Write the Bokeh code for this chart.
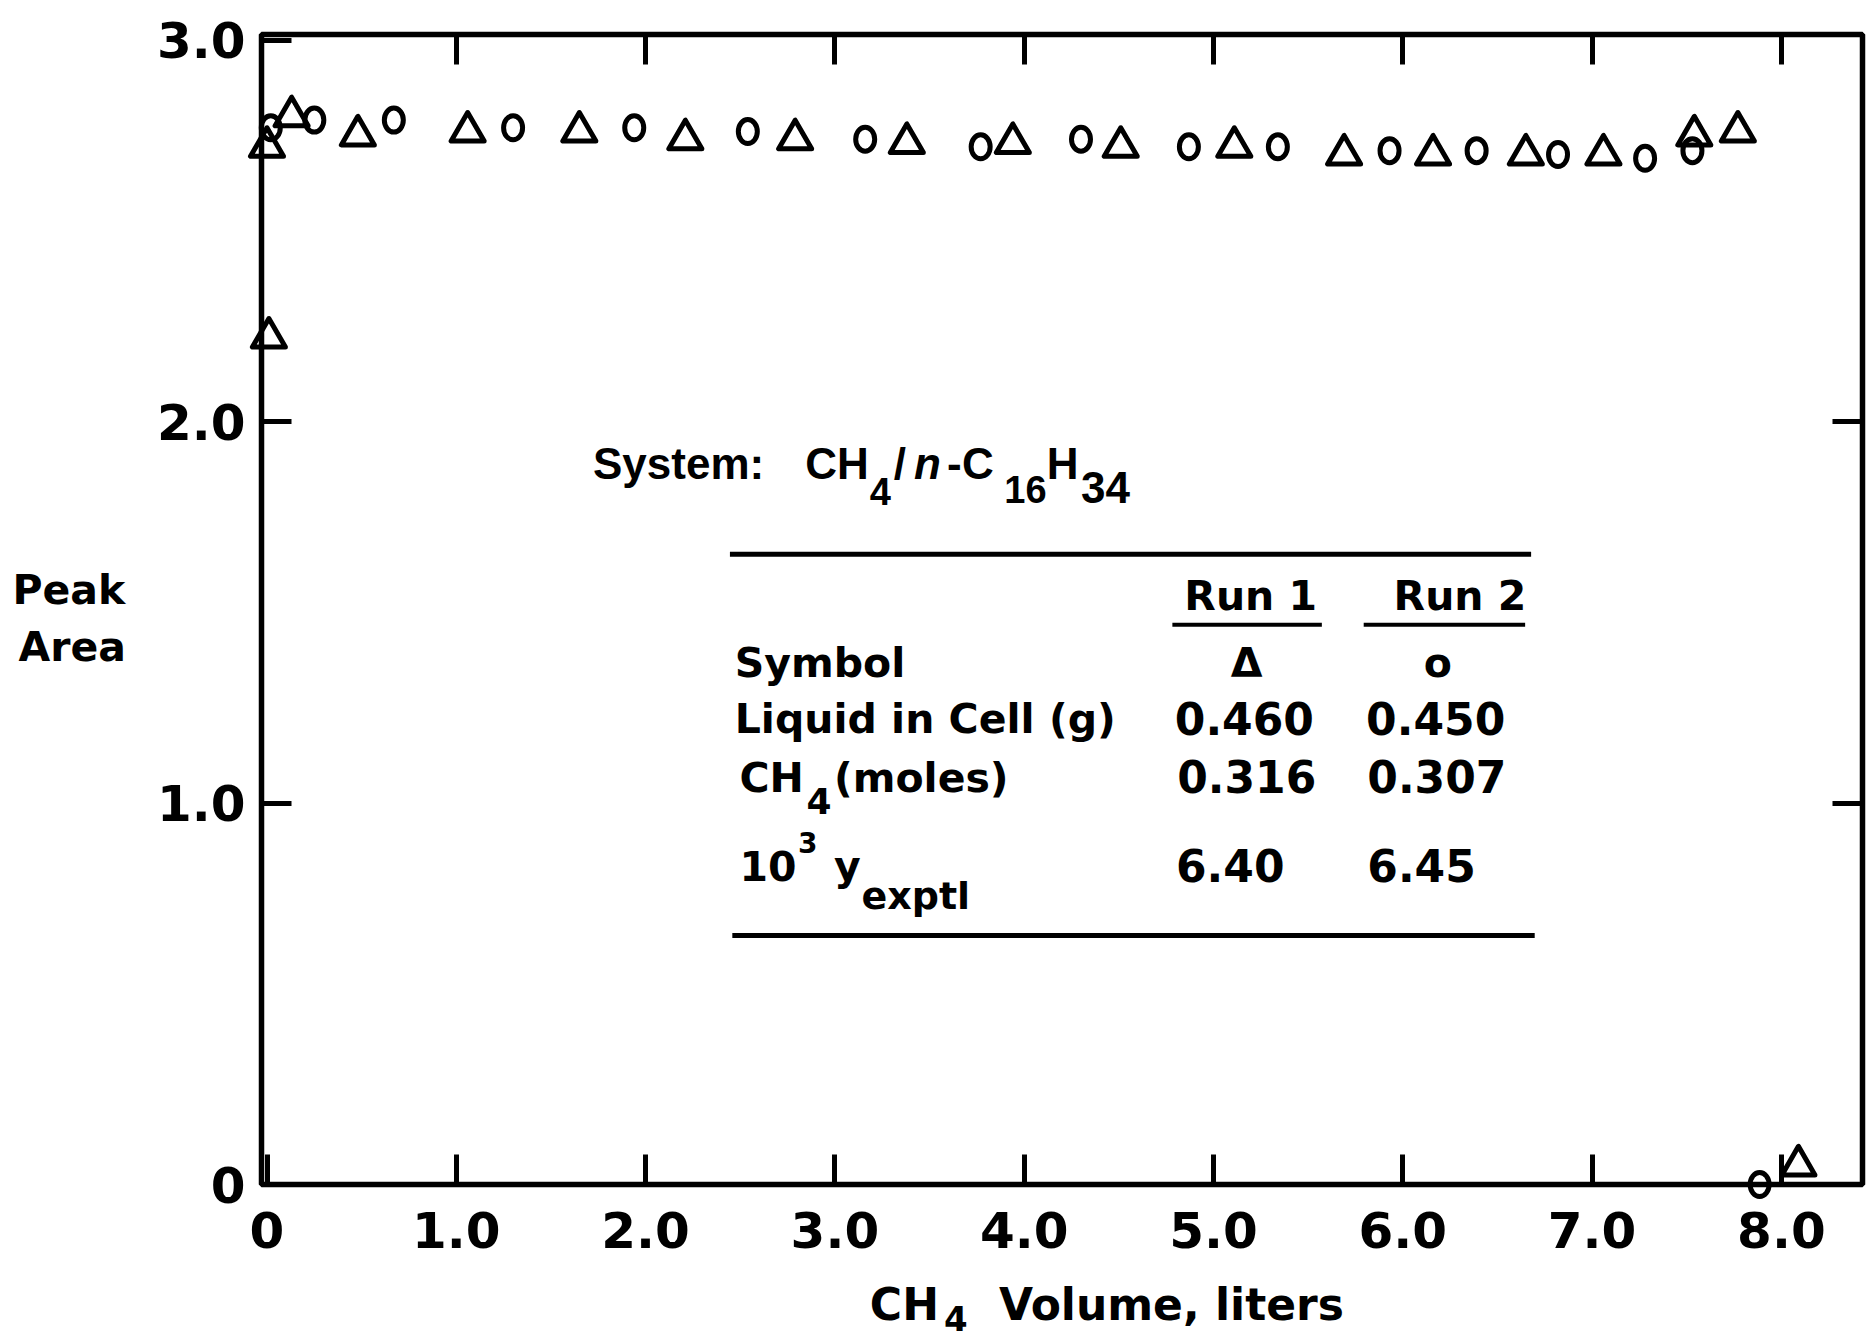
from bokeh.plotting import figure
from bokeh.models import (FixedTicker, LinearAxis, Label, Range1d, BoxAnnotation,
                          ColumnDataSource)
from bokeh.embed import file_html
from bokeh.resources import INLINE

# ---------------- data ----------------
run1_volume = [0.00, 0.01, 0.13, 0.48, 1.06, 1.65, 2.21, 2.79, 3.38, 3.94,
               4.51, 5.11, 5.69, 6.16, 6.65, 7.06, 7.54, 7.77, 8.09]
run1_area = [2.72, 2.22, 2.80, 2.75, 2.76, 2.76, 2.74, 2.74, 2.73, 2.73,
             2.72, 2.72, 2.70, 2.70, 2.70, 2.70, 2.75, 2.76, 0.05]

run2_volume = [0.02, 0.25, 0.67, 1.30, 1.94, 2.54, 3.16, 3.77, 4.30, 4.87,
               5.34, 5.93, 6.39, 6.82, 7.28, 7.53, 7.885]
run2_area = [2.77, 2.79, 2.79, 2.77, 2.77, 2.76, 2.74, 2.72, 2.74, 2.72,
             2.72, 2.71, 2.71, 2.70, 2.69, 2.71, 0.00]

x_ticks = [0, 1, 2, 3, 4, 5, 6, 7, 8]
x_tick_labels = ["0", "1.0", "2.0", "3.0", "4.0", "5.0", "6.0", "7.0", "8.0"]
y_ticks = [0, 1, 2, 3]
y_tick_labels = ["0", "1.0", "2.0", "3.0"]

run_names = ["Run 1", "Run 2"]
run_symbols = ["\u0394", "o"]
liquid_in_cell = ["0.460", "0.450"]
ch4_moles = ["0.316", "0.307"]
y_exptl = ["6.40", "6.45"]

# ---------------- layout ----------------
W, H = 1875, 1341
FL, FR, FT, FB = 261, 1862, 34, 1184      # visible frame box (px)
X0, SX = 266.5, 189.3                     # px of x=0, px per liter
Y0, SY = 1184.0, 381.5                    # px of y=0, px per unit area


def dx(px):
    return (px - X0) / SX


def dy(py):
    return (Y0 - py) / SY


SCALE = 1875 / 1568


def R(xs, ys, lift=0.0):
    """position read on the (shrunk) reference -> data coordinates, for annotations"""
    return dx(xs * SCALE), dy(ys * SCALE - lift)


# the plotting frame covers the whole canvas so nothing gets clipped;
# the visible frame box and the axes are placed on data coordinates.
p = figure(width=W, height=H,
           x_range=Range1d(dx(0), dx(W)), y_range=Range1d(dy(H), dy(0)),
           output_backend="svg", toolbar_location=None,
           x_axis_type=None, y_axis_type=None,
           min_border=0)
p.outline_line_color = None
p.xgrid.visible = False
p.ygrid.visible = False
p.background_fill_color = "white"
p.border_fill_color = "white"

TICK_FONT = "DejaVu Sans"
TABLE_FONT = "DejaVu Sans"
SYS_FONT = "Liberation Sans"


def make_axis(ticks, labels, fixed, show, standoff=0):
    return LinearAxis(ticker=FixedTicker(ticks=ticks), fixed_location=fixed,
                      axis_line_color=None, major_tick_in=30, major_tick_out=0,
                      major_tick_line_width=5, major_tick_line_color="black",
                      minor_tick_line_color=None,
                      major_label_overrides={t: (l if show else "") for t, l in zip(ticks, labels)},
                      major_label_text_font=TICK_FONT, major_label_text_font_style="bold",
                      major_label_text_font_size="50px" if show else "1px",
                      major_label_text_color="black",
                      major_label_standoff=standoff)


p.add_layout(make_axis(x_ticks, x_tick_labels, 0.0, True, standoff=27), "below")
p.add_layout(make_axis(y_ticks, y_tick_labels, dx(FL), True, standoff=16), "left")
p.add_layout(make_axis(x_ticks[1:], x_tick_labels[1:], dy(FT), False), "above")
p.add_layout(make_axis(y_ticks[1:3], y_tick_labels[1:3], dx(FR), False), "right")

# frame
p.add_layout(BoxAnnotation(left=dx(FL), right=dx(FR), top=dy(FT), bottom=dy(FB),
                           fill_alpha=0, line_color="black", line_alpha=1,
                           line_width=5.5))

# data marks
src1 = ColumnDataSource(dict(x=run1_volume, y=run1_area))
src2 = ColumnDataSource(dict(x=run2_volume, y=run2_area))
p.scatter(x="x", y="y", source=src1, marker="triangle", size=33,
          fill_color=None, line_color="black", line_width=5, line_join="round")
p.ellipse(x="x", y="y", source=src2, width=19, height=24,
          width_units="screen", height_units="screen",
          fill_color=None, line_color="black", line_width=5)


def T(text, xs, ys, size=41, font=TABLE_FONT, style="bold", align="left"):
    x, y = R(xs, ys, lift=0.35 * size)
    p.add_layout(Label(x=x, y=y, text=text, text_font=font, text_font_style=style,
                       text_font_size=f"{size}px", text_align=align,
                       text_baseline="alphabetic", text_color="black"))


def rule(xs0, xs1, ys, lw):
    x0, y = R(xs0, ys)
    x1, _ = R(xs1, ys)
    p.segment(x0=[x0], y0=[y], x1=[x1], y1=[y], line_color="black", line_width=lw)


# axis titles
T("Peak", 10, 505, size=41, font=TICK_FONT)
T("Area", 15, 553, size=41, font=TICK_FONT)
T("CH", 727, 1103, size=44)
T("4", 789, 1112, size=34)
T("Volume, liters", 835, 1103, size=44)

# system line
T("System:", 495.5, 400, size=44, font=SYS_FONT)
T("CH", 673, 400, size=44, font=SYS_FONT)
T("4", 727, 422, size=38, font=SYS_FONT)
T("/", 747, 400, size=44, font=SYS_FONT)
T("n", 764, 400, size=44, font=SYS_FONT, style="bold italic")
T("-", 791.5, 400, size=44, font=SYS_FONT)
T("C", 804, 400, size=44, font=SYS_FONT)
T("16", 839.5, 420, size=38, font=SYS_FONT)
T("H", 875, 400, size=44, font=SYS_FONT)
T("34", 903.6, 420, size=44, font=SYS_FONT)

# table
rule(610, 1280, 463, 5)
T(run_names[0], 990, 510)
T(run_names[1], 1165, 510)
rule(980, 1105, 522, 4)
rule(1140, 1275, 522, 4)
T("Symbol", 614, 566)
T(run_symbols[0], 1042, 566, align="center")
T(run_symbols[1], 1202, 566, align="center")
T("Liquid in Cell (g)", 614, 613)
T(liquid_in_cell[0], 982, 613, size=44)
T(liquid_in_cell[1], 1142, 613, size=44)
T("CH", 618, 662)
T("4", 674, 680, size=36)
T("(moles)", 697, 662)
T(ch4_moles[0], 984, 662, size=44)
T(ch4_moles[1], 1143, 662, size=44)
T("10", 618, 736)
T("3", 667, 712, size=28)
T("y", 697, 736)
T("exptl", 720, 760, size=38)
T(y_exptl[0], 983, 736, size=44)
T(y_exptl[1], 1143, 736, size=44)
rule(612, 1283, 782, 5)

open("out.html", "w").write(file_html(p, INLINE))
